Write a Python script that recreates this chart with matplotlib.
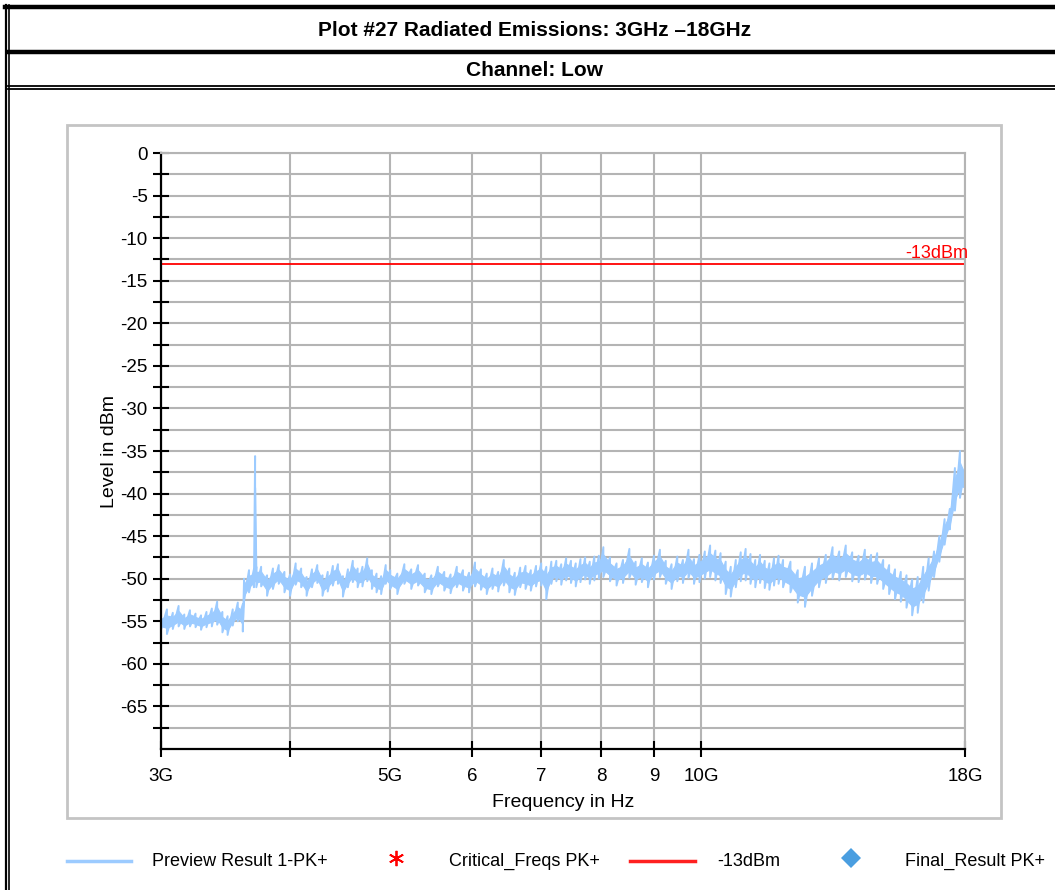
import numpy as np
import matplotlib
matplotlib.use("Agg")
import matplotlib.pyplot as plt
from matplotlib.patches import Rectangle
import matplotlib.transforms as mtransforms

plt.rcParams['font.family'] = ['Liberation Sans', 'DejaVu Sans']
plt.rcParams['axes.unicode_minus'] = False

# ---- data (GHz, dBm) ----
freq_ghz = [
    3.00, 3.04, 3.08, 3.12, 3.16, 3.20, 3.24, 3.28, 3.32, 3.36, 3.40, 3.44,
    3.48, 3.52, 3.56, 3.60, 3.61,
    3.65, 3.69, 3.70, 3.71, 3.75, 3.80, 3.85, 3.90, 3.95, 4.00, 4.05, 4.10,
    4.15, 4.20, 4.25, 4.30, 4.35, 4.40, 4.45, 4.50, 4.55, 4.60, 4.65, 4.70,
    4.75, 4.80, 4.85, 4.90, 4.95, 5.00,
    5.08, 5.16, 5.24, 5.32, 5.40, 5.48, 5.56, 5.64, 5.72, 5.80, 5.88, 5.96,
    6.04, 6.12, 6.20, 6.28, 6.36, 6.44, 6.52, 6.60, 6.68, 6.76, 6.84, 6.92,
    7.00, 7.08, 7.16, 7.24, 7.32, 7.40, 7.48, 7.56, 7.64, 7.72, 7.80, 7.88,
    7.96, 8.04,
    8.16, 8.28, 8.40, 8.52, 8.64, 8.76, 8.88, 9.00, 9.12, 9.24, 9.36, 9.48,
    9.60, 9.72, 9.84, 9.96, 10.08, 10.20, 10.32, 10.44, 10.56, 10.68, 10.80,
    10.92, 11.04, 11.16, 11.28, 11.40, 11.52, 11.64, 11.76, 11.88, 12.00,
    12.2, 12.4, 12.6, 12.8, 13.0, 13.2, 13.4, 13.6, 13.8, 14.0, 14.2, 14.4,
    14.6, 14.8, 15.0, 15.2, 15.4, 15.6, 15.8, 16.0, 16.2, 16.4, 16.6, 16.8,
    17.0, 17.2, 17.4, 17.6, 17.8, 18.0,
]
trace_hi = [
    -54.3, -53.6, -54.0, -53.2, -54.2, -53.7, -54.1, -54.3, -53.9, -53.5,
    -52.7, -53.9, -54.4, -53.6, -52.8, -53.0, -50.0,
    -49.0, -48.9, -35.6, -48.6, -48.6, -49.6, -48.8, -48.4, -49.2, -49.5,
    -48.2, -48.8, -49.8, -48.9, -48.4, -49.6, -49.2, -48.5, -48.3, -49.7,
    -48.9, -47.9, -48.8, -48.6, -47.6, -49.0, -49.4, -49.7, -48.4, -49.0,
    -49.4, -48.3, -48.9, -48.4, -49.4, -49.6, -48.6, -49.2, -49.5, -48.6,
    -49.0, -49.3, -48.1, -48.9, -49.4, -48.8, -49.2, -47.8, -48.8, -49.3,
    -48.7, -48.5, -49.0, -48.5, -48.2, -48.6, -48.0, -47.9, -48.3, -47.6,
    -47.9, -48.2, -47.7, -47.5, -48.0, -47.4, -47.3, -46.3,
    -47.5, -48.2, -47.8, -46.5, -48.0, -47.6, -48.1, -47.3, -46.6, -47.9,
    -48.3, -47.4, -47.8, -46.6, -47.7, -47.2, -46.8, -46.1, -46.7, -47.0,
    -48.0, -48.6, -47.8, -46.9, -46.5, -47.1, -47.8, -47.2, -47.9, -48.2,
    -47.6, -47.3, -47.8,
    -48.0, -49.0, -48.6, -48.2, -47.6, -47.2, -46.3, -46.8, -46.1, -46.9,
    -47.3, -46.6, -47.2, -47.0, -47.8, -48.4, -48.9, -49.2, -49.6, -50.1,
    -49.8, -48.6, -47.6, -46.8, -45.0, -43.0, -41.8, -37.0, -35.0, -37.0,
]
trace_lo = [
    -56.0, -56.5, -55.9, -55.6, -55.9, -55.6, -55.7, -56.0, -55.7, -55.6,
    -55.4, -56.3, -56.6, -55.5, -55.0, -56.2, -52.6,
    -51.6, -51.0, -50.3, -51.0, -50.9, -52.0, -51.2, -50.6, -51.6, -52.0,
    -50.7, -51.0, -52.0, -51.0, -50.5, -52.0, -51.5, -50.8, -50.6, -52.1,
    -51.0, -50.4, -51.0, -50.9, -50.3, -51.2, -51.6, -51.8, -50.6, -51.2,
    -51.8, -50.6, -51.2, -50.8, -51.6, -51.8, -50.9, -51.4, -51.7, -51.0,
    -51.4, -51.6, -50.9, -51.3, -51.8, -51.2, -51.5, -50.8, -51.6, -51.9,
    -51.0, -51.2, -51.4, -50.9, -50.8, -52.4, -50.6, -50.3, -50.7, -50.2,
    -50.5, -50.9, -50.4, -50.1, -50.6, -50.2, -50.0, -49.8,
    -50.3, -50.8, -50.5, -49.9, -50.7, -50.4, -51.0, -50.1, -49.8, -50.6,
    -51.2, -50.3, -50.5, -49.9, -50.6, -50.4, -50.0, -49.8, -50.2, -50.5,
    -51.8, -52.1, -51.0, -50.3, -50.2, -50.6, -51.0, -50.5, -51.1, -51.3,
    -50.8, -50.6, -51.0,
    -51.6, -52.8, -53.3, -52.0, -51.0, -50.5, -50.0, -50.2, -49.8, -50.3,
    -50.4, -50.1, -50.5, -50.6, -51.2, -51.8, -52.4, -52.7, -53.4, -54.3,
    -54.0, -52.8, -51.4, -49.8, -48.0, -46.0, -44.2, -42.0, -40.5, -40.0,
]
limit_dbm = -13

xtick_ghz = [3, 4, 5, 6, 7, 8, 9, 10, 18]
xtick_labels = ["3G", "", "5G", "6", "7", "8", "9", "10G", "18G"]
ytick_major = list(range(0, -70, -5))
legend_names = ["Preview Result 1-PK+", "Critical_Freqs PK+", "-13dBm",
                "Final_Result PK+"]

trace_color = "#9ccbff"
grid_color = "#b4b4b4"

W, H = 1055, 890
fig = plt.figure(figsize=(W / 100, H / 100), dpi=100)

# page frame drawn in pixel coordinates
frame = fig.add_axes([0, 0, 1, 1])
frame.set_xlim(0, W)
frame.set_ylim(H, 0)
frame.axis("off")
frame.plot([5.5, 5.5], [5, H], color="black", lw=1.6)
frame.plot([8.8, 8.8], [5, H], color="black", lw=1.2)
frame.plot([5, W], [7, 7], color="black", lw=3.2)
frame.plot([8, W], [51.5, 51.5], color="black", lw=3.2)
frame.plot([8, W], [85.5, 85.5], color="black", lw=1.3)
frame.plot([8, W], [88.8, 88.8], color="black", lw=1.3)

title_font = ['Liberation Sans Narrow', 'Liberation Sans', 'DejaVu Sans']
frame.text(535, 31, "Plot #27 Radiated Emissions: 3GHz \u201318GHz",
           ha="center", va="center", fontsize=15, fontweight="bold",
           family=title_font)
frame.text(535, 70, "Channel: Low", ha="center", va="center",
           fontsize=15, fontweight="bold", family=title_font)

frame.add_patch(Rectangle((67, 125), 934, 693, fill=False,
                          edgecolor="#c4c4c4", lw=2))

# legend row
ly = 861
frame.plot([67, 131], [ly, ly], color=trace_color, lw=2.5)
frame.text(152, ly, legend_names[0], va="center", fontsize=13)
frame.plot([396], [ly - 3], marker=(6, 2, 0), color="red", ms=11, mew=1.3)
frame.text(449, ly, legend_names[1], va="center", fontsize=13)
frame.plot([630, 695], [ly, ly], color="#ff2020", lw=2.5)
frame.text(717, ly, legend_names[2], va="center", fontsize=13)
frame.plot([851], [ly - 3], marker="D", color="#4a9ee0", ms=10,
           markeredgewidth=0)
frame.text(905, ly, legend_names[3], va="center", fontsize=13)

# chart
ax = fig.add_axes([161 / W, 1 - 749 / H, 804 / W, 596 / H])
ax.set_xscale("log")
f_hz = np.array(freq_ghz) * 1e9
lo = np.array(trace_lo)
hi = np.array(trace_hi)
# solid core of the noisy trace, spiky strokes out to the peaks
ax.fill_between(f_hz, 0.75 * lo + 0.25 * hi, 0.25 * lo + 0.75 * hi,
                color=trace_color, lw=0.8, edgecolor=trace_color)
ax.plot(np.repeat(f_hz, 2), np.column_stack([hi, lo]).ravel(),
        color=trace_color, lw=1.4)
ax.axhline(limit_dbm, color="#ff0000", lw=1.3)
trans = mtransforms.blended_transform_factory(ax.transAxes, ax.transData)
ax.text(1.004, limit_dbm + 0.2, "-13dBm", color="red", fontsize=13,
        ha="right", va="bottom", transform=trans)

ax.set_xlim(3e9, 18e9)
ax.set_ylim(-70, 0)
ax.xaxis.set_minor_locator(matplotlib.ticker.NullLocator())
ax.set_xticks([v * 1e9 for v in xtick_ghz])
ax.set_xticklabels(xtick_labels)
ax.set_yticks(ytick_major)
ax.set_yticks(np.arange(-67.5, 0, 5), minor=True)
ax.grid(True, which="both", color=grid_color, lw=1.5)
ax.set_axisbelow(True)
ax.tick_params(axis="both", which="major", direction="inout", length=12,
               width=1.5, labelsize=13.5, color="black")
ax.tick_params(axis="x", which="major", pad=8)
ax.tick_params(axis="y", which="minor", direction="inout", length=12,
               width=1.5)
for side in ["top", "right"]:
    ax.spines[side].set_color(grid_color)
    ax.spines[side].set_linewidth(1.5)
for side in ["left", "bottom"]:
    ax.spines[side].set_linewidth(1.6)
ax.set_xlabel("Frequency in Hz", fontsize=14, labelpad=6)
ax.set_ylabel("Level in dBm", fontsize=14, labelpad=2)

fig.savefig("out.png", dpi=100)
